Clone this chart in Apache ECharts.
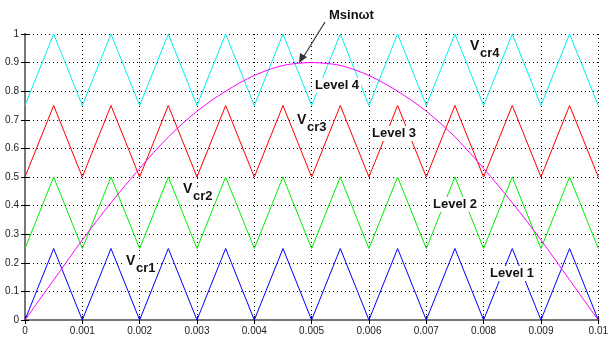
<!DOCTYPE html>
<html>
<head>
<meta charset="utf-8">
<script src="https://cdn.jsdelivr.net/npm/echarts@6/dist/echarts.min.js"></script>
<style>
  html, body { margin: 0; padding: 0; background: #fff; }
  #chart { width: 611px; height: 340px; }
</style>
</head>
<body>
<div id="chart"></div>
<script>
// carrier vertices (time, s)
var tVertex = [0, 0.0005, 0.001, 0.0015, 0.002, 0.0025, 0.003, 0.0035, 0.004, 0.0045, 0.005,
               0.0055, 0.006, 0.0065, 0.007, 0.0075, 0.008, 0.0085, 0.009, 0.0095, 0.01];
var vcr1 = [0, 0.25, 0, 0.25, 0, 0.25, 0, 0.25, 0, 0.25, 0, 0.25, 0, 0.25, 0, 0.25, 0, 0.25, 0, 0.25, 0];
var vcr2 = [0.25, 0.5, 0.25, 0.5, 0.25, 0.5, 0.25, 0.5, 0.25, 0.5, 0.25, 0.5, 0.25, 0.5, 0.25, 0.5, 0.25, 0.5, 0.25, 0.5, 0.25];
var vcr3 = [0.5, 0.75, 0.5, 0.75, 0.5, 0.75, 0.5, 0.75, 0.5, 0.75, 0.5, 0.75, 0.5, 0.75, 0.5, 0.75, 0.5, 0.75, 0.5, 0.75, 0.5];
var vcr4 = [0.75, 1, 0.75, 1, 0.75, 1, 0.75, 1, 0.75, 1, 0.75, 1, 0.75, 1, 0.75, 1, 0.75, 1, 0.75, 1, 0.75];
// reference wave
var msin = [0, 0.14, 0.28, 0.41, 0.53, 0.64, 0.73, 0.80, 0.855, 0.89, 0.9,
            0.89, 0.855, 0.80, 0.73, 0.64, 0.53, 0.41, 0.28, 0.14, 0];

function pairs(xs, ys) {
    return xs.map(function (x, i) { return [x, ys[i]]; });
}

var chart = echarts.init(document.getElementById('chart'));

var font = 'Liberation Sans, Arial, sans-serif';
var gridLine = { show: true, lineStyle: { color: '#000', width: 1, type: [1, 3] } };

// level text, white box hides the lines behind it
function lbl(text, x, y) {
    return [{
        type: 'text', left: x, top: y, z: 100,
        style: { text: text, font: 'bold 13px ' + font, fill: '#111',
                 backgroundColor: '#fff', padding: [1, 2] }
    }];
}

function vlbl(sub, x, y) {
    return [
        { type: 'text', left: x, top: y, z: 100,
          style: { text: 'V', font: 'bold 14px ' + font, fill: '#111', backgroundColor: '#fff', padding: [0, 1] } },
        { type: 'text', left: x + 10, top: y + 8, z: 100,
          style: { text: sub, font: 'bold 13px ' + font, fill: '#111', backgroundColor: '#fff', padding: [0, 1] } }
    ];
}

var graphics = [].concat(
    lbl('Level 4', 313, 78),
    lbl('Level 3', 370, 126),
    lbl('Level 2', 431, 197),
    lbl('Level 1', 488, 266),
    vlbl('cr4', 469, 39),
    vlbl('cr3', 296, 113),
    vlbl('cr2', 182, 182),
    vlbl('cr1', 125, 254),
    [
        { type: 'text', left: 329, top: 9, z: 100,
          style: { text: 'Msinωt', font: 'bold 13px ' + font, fill: '#111' } },
        { type: 'line', z: 100,
          shape: { x1: 325, y1: 22, x2: 304, y2: 56 },
          style: { stroke: '#333', lineWidth: 1.2 } },
        { type: 'polygon', z: 100,
          shape: { points: [[299, 63], [300, 53], [307, 57]] },
          style: { fill: '#333' } }
    ]
);

var option = {
    animation: false,
    backgroundColor: '#fff',
    grid: { left: 25, right: 10, top: 34, bottom: 20 },
    xAxis: [{
        type: 'value', min: 0, max: 0.01, interval: 0.001,
        axisLine: { show: true, lineStyle: { color: '#000', width: 2 } },
        axisTick: { show: true, inside: true, length: 4, lineStyle: { color: '#000' } },
        axisLabel: {
            color: '#222', fontSize: 10, fontFamily: font, margin: 6,
            formatter: function (v) { return v === 0 ? '0' : String(+v.toFixed(3)); }
        },
        splitLine: gridLine
    }, {
        type: 'value', position: 'top', min: 0, max: 0.01, interval: 0.001,
        axisLine: { show: true, lineStyle: { color: '#777', width: 2 } },
        axisTick: { show: true, inside: true, length: 4, lineStyle: { color: '#000' } },
        axisLabel: { show: false },
        splitLine: { show: false }
    }],
    yAxis: [{
        type: 'value', min: 0, max: 1, interval: 0.1,
        axisLine: { show: true, lineStyle: { color: '#777', width: 2 } },
        axisTick: { show: true, inside: true, length: 4, lineStyle: { color: '#000' } },
        axisLabel: {
            color: '#222', fontSize: 10, fontFamily: font, margin: 6,
            formatter: function (v) { return v === 0 ? '0' : String(+v.toFixed(1)); }
        },
        splitLine: gridLine
    }, {
        type: 'value', position: 'right', min: 0, max: 1, interval: 0.1,
        axisLine: { show: true, lineStyle: { color: '#777', width: 2 } },
        axisTick: { show: true, inside: true, length: 4, lineStyle: { color: '#000' } },
        axisLabel: { show: false },
        splitLine: { show: false }
    }],
    series: [
        { name: 'Vcr1', type: 'line', data: pairs(tVertex, vcr1), showSymbol: false,
          lineStyle: { color: '#0000ff', width: 1 } },
        { name: 'Vcr2', type: 'line', data: pairs(tVertex, vcr2), showSymbol: false,
          lineStyle: { color: '#00ee00', width: 1 } },
        { name: 'Vcr3', type: 'line', data: pairs(tVertex, vcr3), showSymbol: false,
          lineStyle: { color: '#ff0000', width: 1 } },
        { name: 'Vcr4', type: 'line', data: pairs(tVertex, vcr4), showSymbol: false,
          lineStyle: { color: '#00eeee', width: 1 } },
        { name: 'Msinωt', type: 'line', data: pairs(tVertex, msin), showSymbol: false, smooth: 0.3,
          lineStyle: { color: '#ff00ff', width: 1 } }
    ],
    graphic: graphics
};

chart.setOption(option);
</script>
</body>
</html>
